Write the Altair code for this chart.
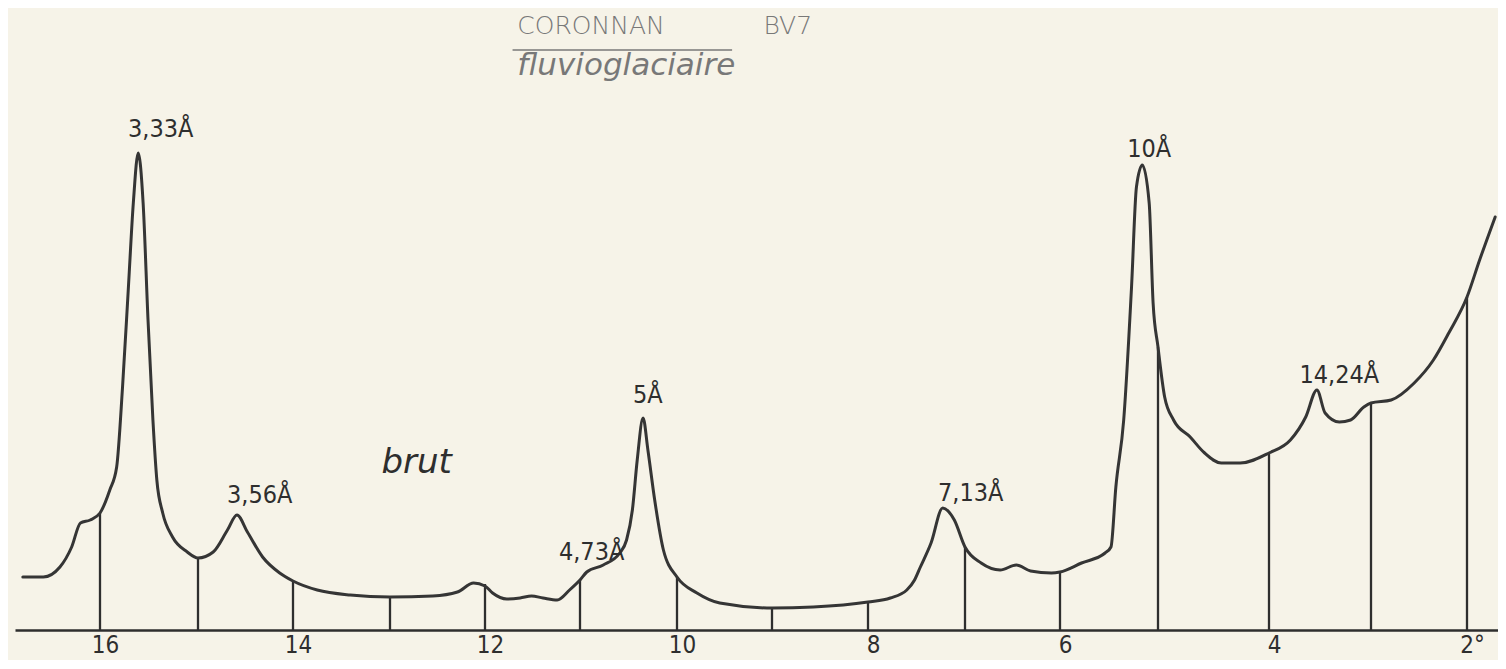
import altair as alt
import pandas as pd

# ---- curve (2-theta in degrees, intensity in arbitrary units) ----
two_theta = [16.79, 16.58, 16.41, 16.29, 16.20, 16.10, 16.00, 15.90, 15.83, 15.77, 15.71, 15.66,
             15.61, 15.56, 15.51, 15.46, 15.42, 15.36, 15.26, 15.11, 15.00, 14.84, 14.69, 14.59,
             14.48, 14.32, 14.14, 14.00, 13.75, 13.41, 13.00, 12.55, 12.29, 12.12, 12.00, 11.92,
             11.77, 11.63, 11.51, 11.39, 11.24, 11.11, 11.00, 10.93, 10.76, 10.59, 10.52, 10.46,
             10.41, 10.35, 10.30, 10.23, 10.14, 10.00, 9.79, 9.55, 9.00, 8.57, 8.00, 7.77, 7.60,
             7.52, 7.46, 7.35, 7.23, 7.11, 7.00, 6.83, 6.63, 6.46, 6.31, 6.09, 6.00, 5.78, 5.54,
             5.48, 5.43, 5.35, 5.27, 5.22, 5.16, 5.09, 5.05, 5.00, 4.94, 4.86, 4.71, 4.58, 4.43,
             4.26, 4.00, 3.79, 3.64, 3.53, 3.45, 3.31, 3.20, 3.07, 3.00, 2.79, 2.55, 2.35, 2.19,
             2.00, 1.87, 1.71]
intensity = [53, 53, 63, 83, 107, 110, 117, 140, 163, 243, 343, 427,
             477, 427, 310, 210, 150, 117, 93, 78, 72, 78, 100, 115,
             98, 73, 57, 49, 40, 35, 33, 34, 38, 47, 44, 37,
             31, 32, 34, 32, 30, 40, 50, 58, 65, 77, 90, 120,
             170, 212, 180, 130, 80, 53, 37, 27, 22, 23, 28, 32, 40,
             50, 63, 87, 122, 110, 83, 67, 60, 65, 59, 57, 58, 67, 77,
             83, 143, 210, 343, 443, 465, 427, 327, 283, 233, 210, 193, 177, 167,
             167, 177, 190, 213, 240, 217, 208, 210, 223, 227, 230, 247, 270, 297,
             333, 370, 413]

# ---- vertical degree marks drawn from the axis up to the curve ----
tick_deg = [16, 15, 14, 13, 12, 11, 10, 9, 8, 7, 6, 5, 4, 3, 2]
tick_height = [117, 72, 49, 33, 46, 50, 53, 22, 28, 83, 58, 283, 177, 227, 333]

# ---- axis labels ----
axis_values = [16, 14, 12, 10, 8, 6, 4, 2]

# ---- peak annotations ----
peak_text = ["3,33Å", "3,56Å", "4,73Å", "5Å", "7,13Å", "10Å", "14,24Å"]
peak_x = [15.38, 14.35, 10.88, 10.30, 6.94, 5.09, 3.31]
peak_y = [493, 127, 70, 227, 129, 473, 247]

# ---- other texts ----
title_text = ["CORONNAN", "BV7"]
title_x = [11.66, 9.09]
title_y = [596, 596]
subtitle_text = ["fluvioglaciaire"]
subtitle_x = [11.66]
subtitle_y = [555]
underline_x = [11.71]
underline_x2 = [9.42]
underline_y = [580]
sample_text = ["brut"]
sample_x = [12.72]
sample_y = [157]

# hand-drawn (slightly uneven) degree scale of the original recording
x_dom = [16.87, 16, 15, 14, 13, 12, 11, 10, 9, 8, 7, 6, 5, 4, 3, 2, 1.66]
x_rng = [7, 92, 190, 285, 382, 477, 572, 669, 764, 860, 957, 1052, 1150, 1261, 1363, 1459, 1492]

NARROW = ("Noto Sans ExtraCondensed, Noto Sans Condensed, DejaVu Sans Condensed, "
          "Liberation Sans Narrow, Roboto Condensed, Roboto, sans-serif")
INK = "#2e2e2e"
PENCIL = "#787878"

xscale = alt.Scale(domain=x_dom, range=x_rng, zero=False, nice=False)
yscale = alt.Scale(domain=[0, 618], zero=False, nice=False)

x_axis = alt.Axis(
    values=axis_values,
    labelExpr="datum.value == 2 ? '2°' : datum.label",
    ticks=False, grid=False, domain=True,
    domainColor=INK, domainWidth=2.6,
    labelFont=NARROW, labelFontSize=24, labelColor=INK,
    labelPadding=3, labelOffset=5, labelFlush=False, labelOverlap=False,
    title=None,
)


def X():
    return alt.X("deg:Q", scale=xscale, axis=x_axis)


def Y(field):
    return alt.Y(field, scale=yscale, axis=None)


curve_df = pd.DataFrame({"deg": two_theta, "I": intensity})
tick_df = pd.DataFrame({"deg": tick_deg, "h": tick_height})
peak_df = pd.DataFrame({"deg": peak_x, "y": peak_y, "t": peak_text})
title_df = pd.DataFrame({"deg": title_x, "y": title_y, "t": title_text})
sub_df = pd.DataFrame({"deg": subtitle_x, "y": subtitle_y, "t": subtitle_text})
ul_df = pd.DataFrame({"deg": underline_x, "deg2": underline_x2, "y": underline_y})
brut_df = pd.DataFrame({"deg": sample_x, "y": sample_y, "t": sample_text})

rules = alt.Chart(tick_df).mark_rule(stroke=INK, strokeWidth=2.3).encode(
    x=X(), y=Y("h:Q"), y2=alt.datum(0),
)

line = alt.Chart(curve_df).mark_line(
    interpolate="monotone", stroke="#353535", strokeWidth=3,
    strokeCap="round", strokeJoin="round",
).encode(x=X(), y=Y("I:Q"))

peaks = alt.Chart(peak_df).mark_text(
    align="center", baseline="alphabetic", font=NARROW, fontSize=25, color=INK,
).encode(x=X(), y=Y("y:Q"), text="t:N")

title = alt.Chart(title_df).mark_text(
    align="left", baseline="alphabetic", font="DejaVu Sans", fontSize=25,
    fontWeight=300, color=PENCIL,
).encode(x=X(), y=Y("y:Q"), text="t:N")

underline = alt.Chart(ul_df).mark_rule(stroke=PENCIL, strokeWidth=1.5).encode(
    x=X(), x2="deg2:Q", y=Y("y:Q"),
)

subtitle = alt.Chart(sub_df).mark_text(
    align="left", baseline="alphabetic", font="DejaVu Sans", fontSize=31,
    fontStyle="italic", color=PENCIL,
).encode(x=X(), y=Y("y:Q"), text="t:N")

brut = alt.Chart(brut_df).mark_text(
    align="center", baseline="alphabetic", font="DejaVu Sans", fontSize=34,
    fontStyle="italic", color=INK,
).encode(x=X(), y=Y("y:Q"), text="t:N")

chart = alt.layer(rules, line, peaks, brut, title, underline, subtitle).properties(
    width=1490, height=618,
    autosize=alt.AutoSizeParams(type="none"),
    padding={"left": 0, "right": 0, "top": 4, "bottom": 30},
    background="#f6f3e8",
).configure_view(stroke=None)

chart.save("out.html", embed_options={"renderer": "svg", "actions": False})
